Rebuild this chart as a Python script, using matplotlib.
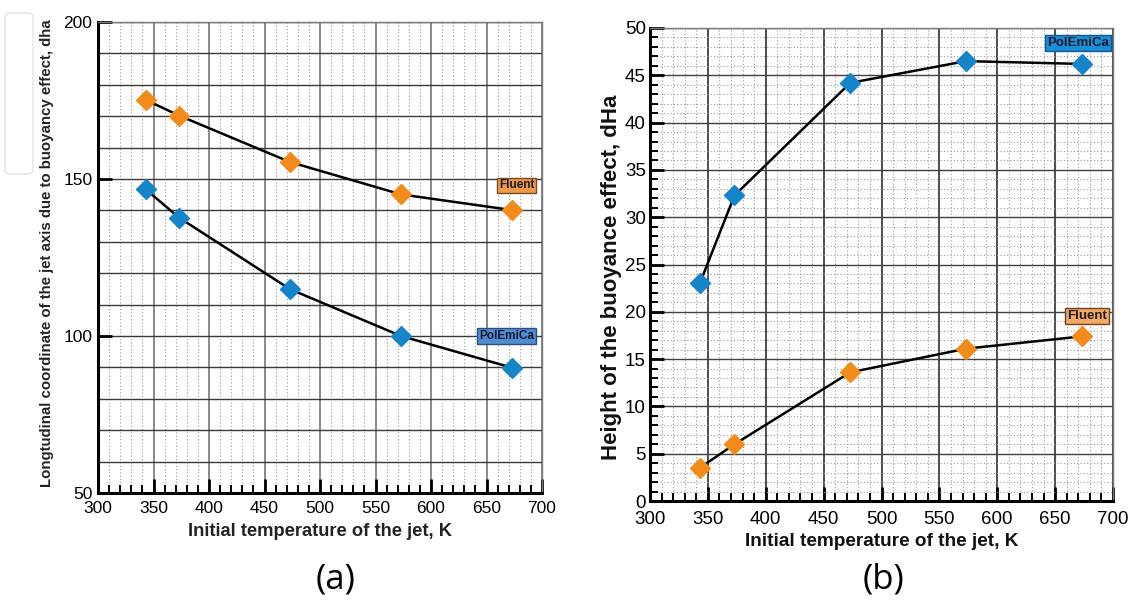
import matplotlib
matplotlib.use("Agg")
import matplotlib.pyplot as plt
from matplotlib.patches import FancyBboxPatch
from matplotlib.ticker import MultipleLocator

# initial jet temperature, K
temperature_k = [343, 373, 473, 573, 673]

# (a) longitudinal coordinate of the jet axis due to buoyancy effect
coord_fluent = [175.2, 170.2, 155.4, 145.1, 140.1]
coord_polemica = [146.7, 137.7, 114.9, 100.0, 89.9]

# (b) height of the buoyance effect
height_polemica = [23.0, 32.3, 44.2, 46.5, 46.2]
height_fluent = [3.5, 6.0, 13.6, 16.1, 17.4]

ORANGE = "#f28a1c"
BLUE = "#1684c9"
W, H = 1128, 603

plt.rcParams["font.family"] = ["Liberation Sans", "DejaVu Sans"]


def px_axes(fig, left, top, right, bottom):
    return fig.add_axes([left / W, 1 - bottom / H, (right - left) / W, (bottom - top) / H])


def style_grid(ax, ymajor, yminor, dotted_y, vcolor, hcolor, tick_size):
    ax.set_xlim(300, 700)
    ax.xaxis.set_major_locator(MultipleLocator(50))
    ax.xaxis.set_minor_locator(MultipleLocator(10))
    ax.yaxis.set_major_locator(MultipleLocator(ymajor))
    ax.yaxis.set_minor_locator(MultipleLocator(yminor))
    ax.set_axisbelow(True)

    ax.grid(True, which="major", axis="x", color=vcolor, lw=1.3, ls="-")
    ax.grid(True, which="minor", axis="x", color="#9a9a9a", lw=0.8, ls=(0, (1, 2)))
    if dotted_y:
        ax.grid(True, which="major", axis="y", color=hcolor, lw=1.0, ls="-")
        ax.grid(True, which="minor", axis="y", color="#9a9a9a", lw=0.8, ls=(0, (1, 2)))
    else:
        ax.grid(True, which="both", axis="y", color=hcolor, lw=1.0, ls="-")

    for side in ("left", "bottom"):
        ax.spines[side].set_linewidth(2.2)
        ax.spines[side].set_color("black")
    for side in ("top", "right"):
        ax.spines[side].set_linewidth(1.0)
        ax.spines[side].set_color("#7a7a7a")

    ax.tick_params(which="major", direction="in", length=10, width=2.0,
                   labelsize=tick_size, pad=4, top=False, right=False)
    ax.tick_params(which="minor", direction="in", length=6, width=1.4,
                   top=False, right=False)


def raise_lowest_label(ax):
    # the lowest y label sits a little above the corner, as in the scan
    ax.yaxis.get_major_ticks()[0].label1.set_verticalalignment("bottom")


def tag(ax, x, y, text, face, edge, size):
    ax.text(x, y, text, ha="center", va="center", fontsize=size, fontweight="bold",
            color="#1a1a2a",
            bbox=dict(boxstyle="square,pad=0.15", fc=face, ec=edge, lw=1.0), zorder=5)


def draw_series(ax, y, color):
    ax.plot(temperature_k, y, color="black", lw=1.8, zorder=3)
    ax.plot(temperature_k, y, ls="none", marker="D", ms=10, mfc=color, mec=color, zorder=4)


fig = plt.figure(figsize=(W / 100, H / 100), dpi=100)

# (a)
ax_a = px_axes(fig, 98, 22, 542, 493)
style_grid(ax_a, 50, 10, False, "#808080", "#3a3a3a", 12.5)
ax_a.set_ylim(50, 200)
ax_a.tick_params(axis="y", which="minor", length=0)
ax_a.tick_params(axis="x", pad=6)
raise_lowest_label(ax_a)
draw_series(ax_a, coord_fluent, ORANGE)
draw_series(ax_a, coord_polemica, BLUE)
tag(ax_a, 677, 148, "Fluent", "#f09a48", "#7a4a20", 8.5)
tag(ax_a, 668, 100, "PolEmiCa", "#4f8dd3", "#2c4f7c", 8.5)

# (b)
ax_b = px_axes(fig, 650, 28, 1113, 501)
style_grid(ax_b, 5, 1, True, "#404040", "#404040", 13.5)
ax_b.set_ylim(0, 50)
ax_b.tick_params(axis="y", pad=3)
ax_b.tick_params(axis="x", pad=7)
raise_lowest_label(ax_b)
draw_series(ax_b, height_polemica, BLUE)
draw_series(ax_b, height_fluent, ORANGE)
tag(ax_b, 670, 48.4, "PolEmiCa", "#1a8fd6", "#0f5a96", 9.5)
tag(ax_b, 677.5, 19.6, "Fluent", "#f5a862", "#6e4420", 9.5)

# axis titles
fig.text(320 / W, 1 - 532 / H, "Initial temperature of the jet, K", ha="center", va="center",
         fontsize=13.2, fontweight="bold", color="#222222")
fig.text(882 / W, 1 - 541 / H, "Initial temperature of the jet, K", ha="center", va="center",
         fontsize=13.7, fontweight="bold", color="#111111")
fig.text(47 / W, 1 - 253 / H,
         "Longtudinal coordinate of the jet axis due to buoyancy effect, dha",
         rotation=90, ha="center", va="center", fontsize=10.8, fontweight="bold", color="#222222")
fig.text(612 / W, 1 - 277 / H, "Height of the buoyance effect, dHa",
         rotation=90, ha="center", va="center", fontsize=16, fontweight="bold", color="#111111")

# panel letters
fig.text(336 / W, 1 - 580 / H, "(a)", ha="center", va="center", fontsize=25,
         family=["Open Sans", "DejaVu Sans"])
fig.text(884 / W, 1 - 580 / H, "(b)", ha="center", va="center", fontsize=25,
         family=["Open Sans", "DejaVu Sans"])

# faint frame left over at the top-left of the scan
fig.add_artist(FancyBboxPatch((5 / W, 1 - 174 / H), 28 / W, 161 / H,
                              boxstyle="round,pad=0,rounding_size=0.006",
                              transform=fig.transFigure, fc="none", ec="#e4e4e4", lw=1.0))

fig.savefig("out.png", dpi=100)
